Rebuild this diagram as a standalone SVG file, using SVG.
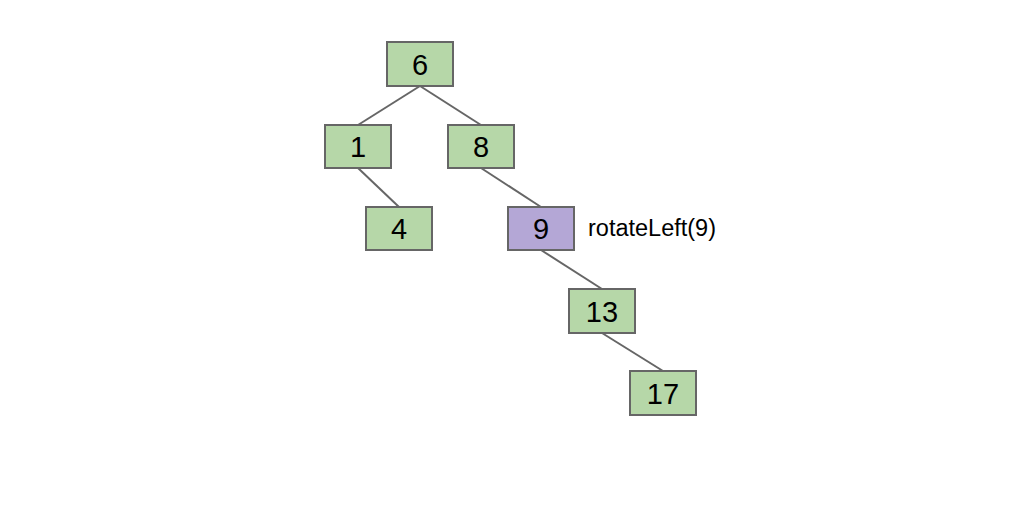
<svg xmlns="http://www.w3.org/2000/svg" width="1033" height="507" viewBox="0 0 1033 507">
  <style>
    .box { fill: #b6d7a8; stroke: #666666; stroke-width: 2; }
    .box.hl { fill: #b4a7d6; }
    .num { font-family: "Liberation Sans", Arial, sans-serif; font-size: 29px; fill: #000; text-anchor: middle; }
    .edge { stroke: #666666; stroke-width: 2; fill: none; }
    .note { font-family: "Liberation Sans", Arial, sans-serif; font-size: 23.5px; fill: #000; }
  </style>
  <rect width="1033" height="507" fill="#ffffff"/>
  <g id="connectors">
    <line class="edge" x1="420" y1="86" x2="358" y2="125"/>
    <line class="edge" x1="420" y1="86" x2="481" y2="125"/>
    <line class="edge" x1="358" y1="168" x2="399" y2="207"/>
    <line class="edge" x1="481" y1="168" x2="541" y2="207"/>
    <line class="edge" x1="541" y1="250" x2="602" y2="289"/>
    <line class="edge" x1="602" y1="333" x2="663" y2="371"/>
  </g>
  <g id="n6">
    <rect class="box" x="387" y="42" width="66" height="44"/>
    <text class="num" x="420" y="74.5">6</text>
  </g>
  <g id="n1">
    <rect class="box" x="325" y="125" width="66" height="43"/>
    <text class="num" x="358" y="157">1</text>
  </g>
  <g id="n8">
    <rect class="box" x="448" y="125" width="66" height="43"/>
    <text class="num" x="481" y="157">8</text>
  </g>
  <g id="n4">
    <rect class="box" x="366" y="207" width="66" height="43"/>
    <text class="num" x="399" y="239">4</text>
  </g>
  <g id="n9">
    <rect class="box hl" x="508" y="207" width="66" height="43"/>
    <text class="num" x="541" y="239">9</text>
    <text class="note" x="588" y="236">rotateLeft(9)</text>
  </g>
  <g id="n13">
    <rect class="box" x="569" y="289" width="66" height="44"/>
    <text class="num" x="602" y="321.5">13</text>
  </g>
  <g id="n17">
    <rect class="box" x="630" y="371" width="66" height="44"/>
    <text class="num" x="663" y="403.5">17</text>
  </g>
</svg>
